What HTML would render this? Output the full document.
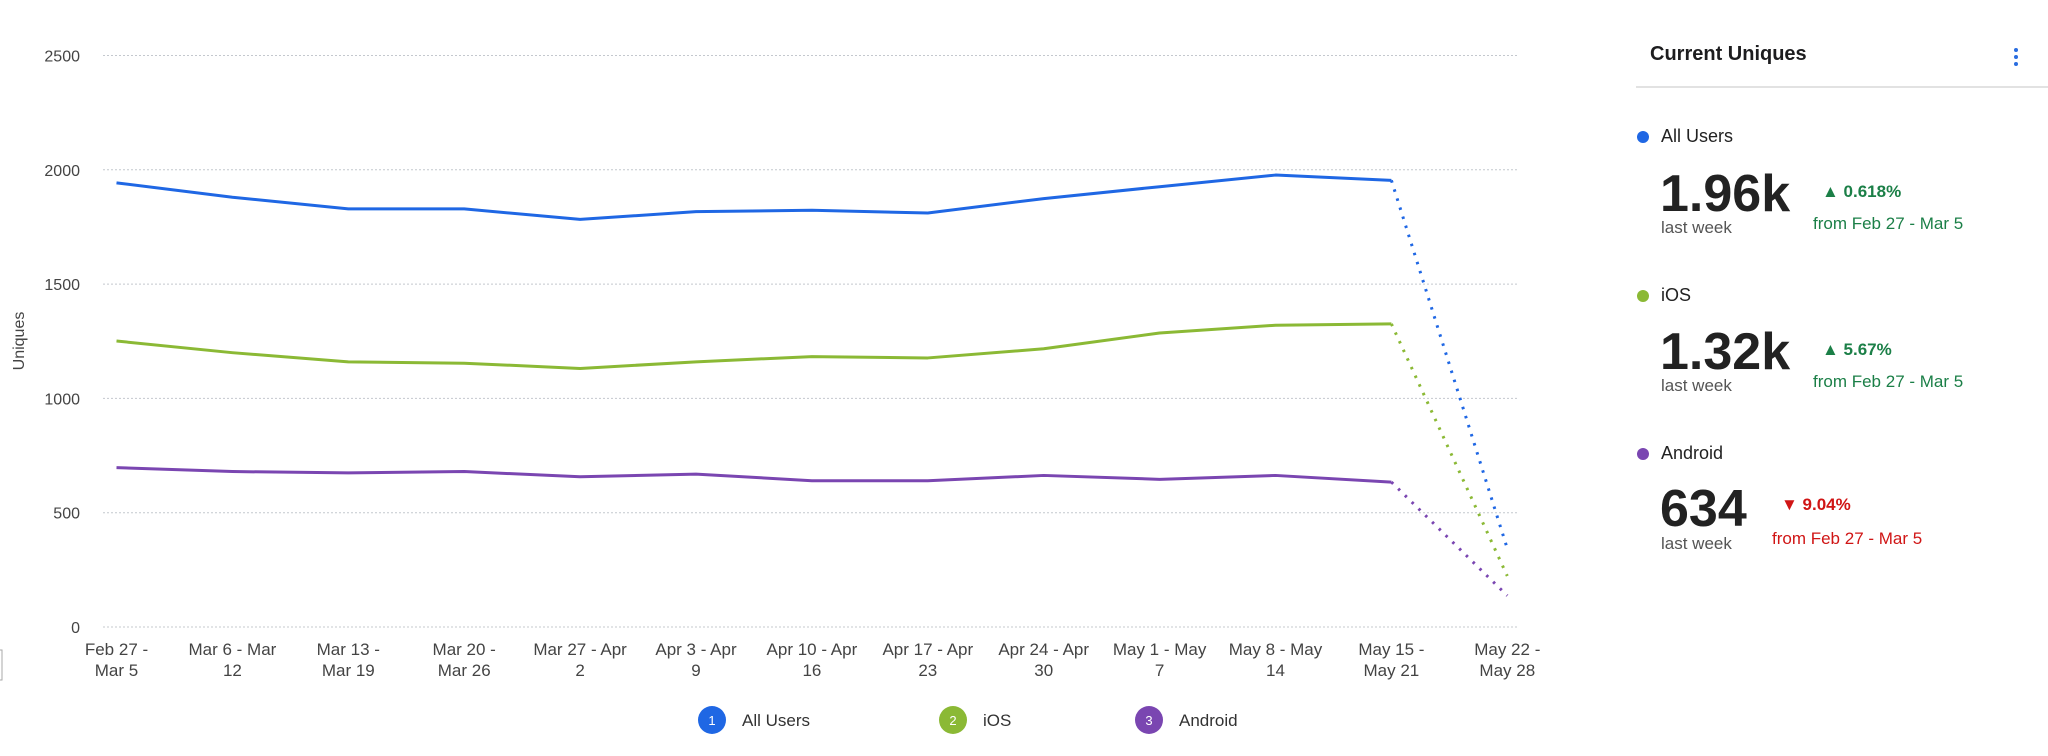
<!DOCTYPE html>
<html><head><meta charset="utf-8">
<style>
html,body{margin:0;padding:0;background:#fff;width:2048px;height:756px;overflow:hidden;font-family:"Liberation Sans",Arial,sans-serif;}
#chart{position:absolute;left:0;top:0;}
.panel{position:absolute;left:1636px;top:0;width:412px;height:756px;}
.abs{position:absolute;white-space:nowrap;}
</style></head><body>
<svg id="chart" width="1560" height="756"></svg>

<div class="panel">
  <div class="abs" style="left:14px;top:43px;font-size:20px;font-weight:bold;color:#1d1d1f">Current Uniques</div>
  <div class="abs" style="left:378px;top:48px;width:5px">
    <div style="width:4px;height:4px;border-radius:2px;background:#2a6de0;margin-bottom:3px"></div>
    <div style="width:4px;height:4px;border-radius:2px;background:#2a6de0;margin-bottom:3px"></div>
    <div style="width:4px;height:4px;border-radius:2px;background:#2a6de0"></div>
  </div>
  <div class="abs" style="left:0;top:86px;width:412px;height:2px;background:#e2e2e2"></div>

  <div>
    <div class="abs" style="left:1px;top:131px;width:12px;height:12px;border-radius:6px;background:#1f67e4"></div>
    <div class="abs" style="left:25px;top:126px;font-size:18px;color:#222">All Users</div>
    <div class="abs" style="left:24px;top:164px;font-size:52px;font-weight:bold;color:#222;line-height:60px">1.96k</div>
    <div class="abs" style="left:25px;top:218px;font-size:17px;color:#555">last week</div>
    <div class="abs" style="left:186px;top:182px;font-size:17px;font-weight:bold;color:#1b7f47">▲ 0.618%</div>
    <div class="abs" style="left:177px;top:214px;font-size:17px;color:#1b7f47">from Feb 27 - Mar 5</div>
  </div>
  <div>
    <div class="abs" style="left:1px;top:290px;width:12px;height:12px;border-radius:6px;background:#8bb935"></div>
    <div class="abs" style="left:25px;top:285px;font-size:18px;color:#222">iOS</div>
    <div class="abs" style="left:24px;top:322px;font-size:52px;font-weight:bold;color:#222;line-height:60px">1.32k</div>
    <div class="abs" style="left:25px;top:376px;font-size:17px;color:#555">last week</div>
    <div class="abs" style="left:186px;top:340px;font-size:17px;font-weight:bold;color:#1b7f47">▲ 5.67%</div>
    <div class="abs" style="left:177px;top:372px;font-size:17px;color:#1b7f47">from Feb 27 - Mar 5</div>
  </div>
  <div>
    <div class="abs" style="left:1px;top:448px;width:12px;height:12px;border-radius:6px;background:#7a46b1"></div>
    <div class="abs" style="left:25px;top:443px;font-size:18px;color:#222">Android</div>
    <div class="abs" style="left:24px;top:479px;font-size:52px;font-weight:bold;color:#222;line-height:60px">634</div>
    <div class="abs" style="left:25px;top:534px;font-size:17px;color:#555">last week</div>
    <div class="abs" style="left:145px;top:495px;font-size:17px;font-weight:bold;color:#d01515">▼ 9.04%</div>
    <div class="abs" style="left:136px;top:529px;font-size:17px;color:#d01515">from Feb 27 - Mar 5</div>
  </div>
</div>

<script>
const categories = [["Feb 27 -","Mar 5"],["Mar 6 - Mar","12"],["Mar 13 -","Mar 19"],["Mar 20 -","Mar 26"],["Mar 27 - Apr","2"],["Apr 3 - Apr","9"],["Apr 10 - Apr","16"],["Apr 17 - Apr","23"],["Apr 24 - Apr","30"],["May 1 - May","7"],["May 8 - May","14"],["May 15 -","May 21"],["May 22 -","May 28"]];
const allUsers = [1943,1880,1829,1829,1783,1817,1823,1811,1874,1926,1977,1954,343];
const ios = [1251,1200,1160,1154,1131,1160,1183,1177,1217,1286,1320,1326,223];
const android = [697,680,674,680,657,669,640,640,663,646,663,634,137];
const yTicks = [0,500,1000,1500,2000,2500];
const seriesNames = ["All Users","iOS","Android"];

const NS="http://www.w3.org/2000/svg";
const svg=document.getElementById('chart');
const X0=116.5, DX=115.9, Y0=627, YMAX=2500, YH=571.5;
function xs(i){return X0+i*DX;}
function ys(v){return Y0-v/YMAX*YH;}
function mk(tag,attrs){const e=document.createElementNS(NS,tag);for(const k in attrs)e.setAttribute(k,attrs[k]);svg.appendChild(e);return e;}

yTicks.forEach(t=>{
  const g=mk('line',{x1:103,x2:1519,y1:ys(t),y2:ys(t),stroke:'#c4c8ce','stroke-width':1,'stroke-dasharray':'2,2'});
  
  
  const l=mk('text',{x:80,y:ys(t)+6,'text-anchor':'end','font-size':16,fill:'#444','font-family':'Liberation Sans, sans-serif'});
  l.textContent=t;
  
  
});
const yt=mk('text',{x:0,y:0,transform:'translate(24,341) rotate(-90)','text-anchor':'middle','font-size':16,fill:'#444','font-family':'Liberation Sans, sans-serif'});
yt.textContent='Uniques';



categories.forEach((c,i)=>{
  c.forEach((line,j)=>{
    const t=mk('text',{x:xs(i),y:655+j*21,'text-anchor':'middle','font-size':17,fill:'#444','font-family':'Liberation Sans, sans-serif'});
    t.textContent=line;
    
    
  });
});

const colors=['#1f67e4','#8bb935','#7a46b1'];
[allUsers,ios,android].forEach((s,k)=>{
  const n=s.length;
  let d='';
  for(let i=0;i<n-1;i++) d+=(i?'L':'M')+xs(i)+','+ys(s[i]);
  const p=mk('path',{d:d,fill:'none',stroke:colors[k],'stroke-width':3,'stroke-linejoin':'round'});
  
  
  const q=mk('line',{x1:xs(n-2),y1:ys(s[n-2]),x2:xs(n-1),y2:ys(s[n-1]),stroke:colors[k],'stroke-width':3,'stroke-dasharray':'2.5,7','stroke-linecap':'butt'});
  
  
});

const legX=[712,953,1149];
seriesNames.forEach((nm,k)=>{
  const c=mk('circle',{cx:legX[k],cy:720,r:14,fill:colors[k]});
  
  
  const n=mk('text',{x:legX[k],y:725,'text-anchor':'middle','font-size':13,fill:'#fff','font-family':'Liberation Sans, sans-serif'});
  n.textContent=k+1;
  
  
  const t=mk('text',{x:legX[k]+30,y:726,'font-size':17,fill:'#333','font-family':'Liberation Sans, sans-serif'});
  t.textContent=nm;
  
  
});
const box=mk('rect',{x:-2,y:650,width:4,height:30,fill:'none',stroke:'#aaa','stroke-width':1});


</script>
</body></html>
